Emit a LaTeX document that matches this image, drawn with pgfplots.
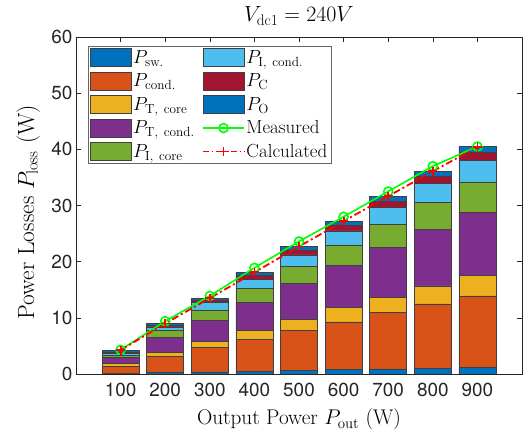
\RequirePackage{fix-cm}
\documentclass[border=0pt]{standalone}
\usepackage{fontspec}
\newfontfamily\tickfont{TeX Gyre Heros}
\usepackage{pgfplots}
\usepackage{pgfplotstable}
\pgfplotsset{compat=1.18}

\definecolor{c1}{rgb}{0,0.447,0.741}
\definecolor{c2}{rgb}{0.850,0.325,0.098}
\definecolor{c3}{rgb}{0.929,0.694,0.125}
\definecolor{c4}{rgb}{0.494,0.184,0.556}
\definecolor{c5}{rgb}{0.466,0.674,0.188}
\definecolor{c6}{rgb}{0.301,0.745,0.933}
\definecolor{c7}{rgb}{0.635,0.078,0.184}
\definecolor{axgray}{rgb}{0.15,0.15,0.15}
\definecolor{mgreen}{rgb}{0,1,0}
\definecolor{mred}{rgb}{1,0,0}

\pgfplotstableread{
x   psw  pcond ptcore ptcond picore picond pc   po   meas calc
100 0.1  1.3   0.5    1.05   0.4    0.35   0.25 0.3  4.3  4.25
200 0.3  2.9   0.7    2.6    1.2    0.7    0.3  0.3  9.4  9.0
300 0.4  4.3   1.1    3.8    1.8    1.4    0.4  0.3  13.9 13.5
400 0.5  5.7   1.5    5.1    2.5    1.6    0.7  0.5  18.9 18.1
500 0.7  7.1   1.95   6.35   3.05   2.05   0.9  0.6  23.6 22.7
600 0.8  8.5   2.5    7.5    3.7    2.5    0.9  0.8  28.0 27.2
700 0.9  10.05 2.75   8.8    4.15   2.95   1.2  0.85 32.5 31.65
800 1.0  11.5  3.2    10.1   4.8    3.35   1.3  0.85 37.0 36.1
900 1.2  12.7  3.6    11.3   5.4    3.8    1.5  1.0  40.5 40.4
}\losses

\pgfplotsset{
  common/.style={scale only axis, width=446bp, height=337bp,
    xmin=0, xmax=1000, ymin=0, ymax=60},
  barleg/.style={legend image code/.code={\draw[##1] (0bp,-9bp) rectangle (41bp,9bp);}},
  lineleg/.style={legend image code/.code={\draw[mark repeat=2,mark phase=2,##1] plot coordinates {(0bp,0bp) (20.5bp,0bp) (41bp,0bp)};}},
  calcleg/.style={legend image code/.code={%
    \draw[mred, line width=1.8bp, dash pattern=on 6bp off 2.5bp on 1.5bp off 2.5bp] (0bp,0bp) -- (17bp,0bp);
    \draw[mred, line width=1.8bp, dash pattern=on 1.5bp off 2.5bp on 6bp off 2.5bp] (24bp,0bp) -- (41bp,0bp);
    \draw[mred, line width=1.5bp] (16bp,0bp) -- (25bp,0bp) (20.5bp,-4.5bp) -- (20.5bp,4.5bp);}},
  measstyle/.style={color=mgreen, draw=mgreen, line width=1.6bp, mark=o, mark size=4.5bp, mark options={solid, draw=mgreen}},
  calcstyle/.style={color=mred, draw=mred, line width=1.8bp, dash pattern=on 7bp off 3bp on 2bp off 3bp, mark=+, mark size=4.5bp, mark options={solid, draw=mred}},
}

\begin{document}
\begin{tikzpicture}
\begin{axis}[common, name=ax,
  ybar stacked, bar width=83,
  xtick={100,200,...,900}, ytick={0,10,...,60},
  tick align=inside, major tick length=5bp,
  axis line style={axgray, line width=0.6bp},
  tick style={axgray, line width=0.6bp},
  /pgf/number format/assume math mode=true,
  ticklabel style={font=\tickfont\fontsize{19}{19}\selectfont, text=axgray},
  xticklabel style={yshift=-6bp},
  xlabel={Output Power $P_{\mathrm{out}}$ (W)},
  ylabel={Power Losses $P_{\mathrm{loss}}$ (W)},
  title={$V_{\mathrm{dc1}}=240V$},
  xlabel style={font=\fontsize{21.3}{24}\selectfont, at={(axis description cs:0.5,-0.151)}, anchor=base},
  ylabel style={font=\fontsize{23.5}{26}\selectfont, at={(axis description cs:-0.094,0.48)}, anchor=base},
  title style={font=\fontsize{22}{24}\selectfont, at={(axis description cs:0.5,1.027)}, anchor=base},
  every axis plot/.append style={draw=black!75, line width=0.5bp},
]
\addplot[fill=c1] table[x=x,y=psw]{\losses};
\addplot[fill=c2] table[x=x,y=pcond]{\losses};
\addplot[fill=c3] table[x=x,y=ptcore]{\losses};
\addplot[fill=c4] table[x=x,y=ptcond]{\losses};
\addplot[fill=c5] table[x=x,y=picore]{\losses};
\addplot[fill=c6] table[x=x,y=picond]{\losses};
\addplot[fill=c7] table[x=x,y=pc]{\losses};
\addplot[fill=c1] table[x=x,y=po]{\losses};
\end{axis}
\begin{axis}[common, hide axis,
  legend columns=5, transpose legend,
  legend cell align=left,
  legend style={at={(axis description cs:0.027,0.973)}, anchor=north west,
    font=\fontsize{19}{21}\selectfont, draw=black!60,
    inner sep=2bp, nodes={inner sep=1.5bp}, row sep=5bp,
    /tikz/every even column/.append style={column sep=6bp}},
]
\addplot[measstyle, forget plot] table[x=x,y=meas]{\losses};
\addplot[calcstyle, forget plot] table[x=x,y=calc]{\losses};
\addlegendimage{barleg, fill=c1, draw=black!75, line width=0.5bp}
\addlegendentry{$P_{\mathrm{sw.}}$}
\addlegendimage{barleg, fill=c2, draw=black!75, line width=0.5bp}
\addlegendentry{$P_{\mathrm{cond.}}$}
\addlegendimage{barleg, fill=c3, draw=black!75, line width=0.5bp}
\addlegendentry{$P_{\mathrm{T,\ core}}$}
\addlegendimage{barleg, fill=c4, draw=black!75, line width=0.5bp}
\addlegendentry{$P_{\mathrm{T,\ cond.}}$}
\addlegendimage{barleg, fill=c5, draw=black!75, line width=0.5bp}
\addlegendentry{$P_{\mathrm{I,\ core}}$}
\addlegendimage{barleg, fill=c6, draw=black!75, line width=0.5bp}
\addlegendentry{$P_{\mathrm{I,\ cond.}}$}
\addlegendimage{barleg, fill=c7, draw=black!75, line width=0.5bp}
\addlegendentry{$P_{\mathrm{C}}$}
\addlegendimage{barleg, fill=c1, draw=black!75, line width=0.5bp}
\addlegendentry{$P_{\mathrm{O}}$}
\addlegendimage{lineleg, measstyle}
\addlegendentry{Measured}
\addlegendimage{calcleg}
\addlegendentry{Calculated}
\end{axis}
\path ([shift={(-76bp,-59bp)}]ax.south west) rectangle ([shift={(2bp,37bp)}]ax.north east);
\end{tikzpicture}
\end{document}
